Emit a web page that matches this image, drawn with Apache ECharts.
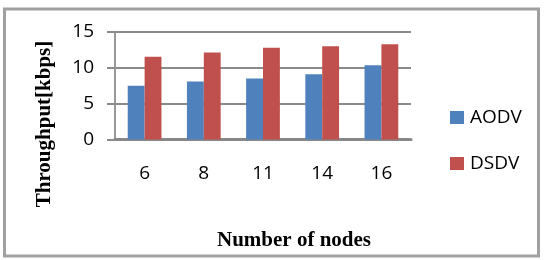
<!DOCTYPE html>
<html><head><meta charset="utf-8">
<script src="https://cdn.jsdelivr.net/npm/echarts@6/dist/echarts.min.js"></script>
<style>html,body{margin:0;padding:0;background:#fff}#c{width:546px;height:260px}</style>
</head><body><div id="c"></div>
<script>
const categories = ['6', '8', '11', '14', '16'];
const aodv = [7.5, 8.1, 8.5, 9.1, 10.35];
const dsdv = [11.55, 12.15, 12.8, 13.0, 13.3];
const seriesNames = ['AODV', 'DSDV'];
const yTicks = {min: 0, max: 15, interval: 5};
const xTitle = 'Number of nodes';
const yTitle = 'Throughput[kbps]';

const chart = echarts.init(document.getElementById('c'), null, {renderer: 'canvas'});
const lblFont = '"Open Sans", sans-serif';
chart.setOption({
  animation: false,
  backgroundColor: '#fff',
  grid: {left: 115, right: 135, top: 32, bottom: 120.5, containLabel: false},
  legend: {
    orient: 'vertical', left: 445, top: 103,
    itemWidth: 14, itemHeight: 13, itemGap: 27, icon: 'rect',
    textStyle: {fontFamily: lblFont, fontSize: 19, color: '#000', padding: [0,0,0,1]},
    data: seriesNames
  },
  xAxis: {
    type: 'category', data: categories,
    axisLine: {lineStyle: {color: '#888', width: 3}},
    axisTick: {show: false},
    axisLabel: {fontFamily: lblFont, fontSize: 19, color: '#000', margin: 25}
  },
  yAxis: {
    type: 'value', min: yTicks.min, max: yTicks.max, interval: yTicks.interval,
    axisLine: {show: true, lineStyle: {color: '#999', width: 2}},
    axisTick: {show: true, length: 8, lineStyle: {color: '#8a8a8a', width: 2}},
    splitLine: {lineStyle: {color: '#8a8a8a', width: 2}},
    axisLabel: {fontFamily: lblFont, fontSize: 19, color: '#000', margin: 21}
  },
  series: [
    {name: seriesNames[0], type: 'bar', data: aodv, barGap: '0%', barCategoryGap: '43%',
     itemStyle: {color: '#4F81BD'}},
    {name: seriesNames[1], type: 'bar', data: dsdv, barGap: '0%', barCategoryGap: '43%',
     itemStyle: {color: '#C0504D'}}
  ],
  graphic: [
    {type: 'rect', shape: {x: 4.5, y: 9, width: 534, height: 247}, silent: true,
     style: {fill: null, stroke: '#a0a0a0', lineWidth: 3}},
    {type: 'text', x: 294, y: 241, silent: true,
     style: {text: xTitle, font: 'bold 21px "Liberation Serif", serif', fill: '#000', align: 'center', verticalAlign: 'middle'}},
    {type: 'text', x: 45, y: 124, rotation: Math.PI / 2, silent: true,
     style: {text: yTitle, font: 'bold 21px "Liberation Serif", serif', fill: '#000', align: 'center', verticalAlign: 'middle'}}
  ]
});
</script></body></html>
